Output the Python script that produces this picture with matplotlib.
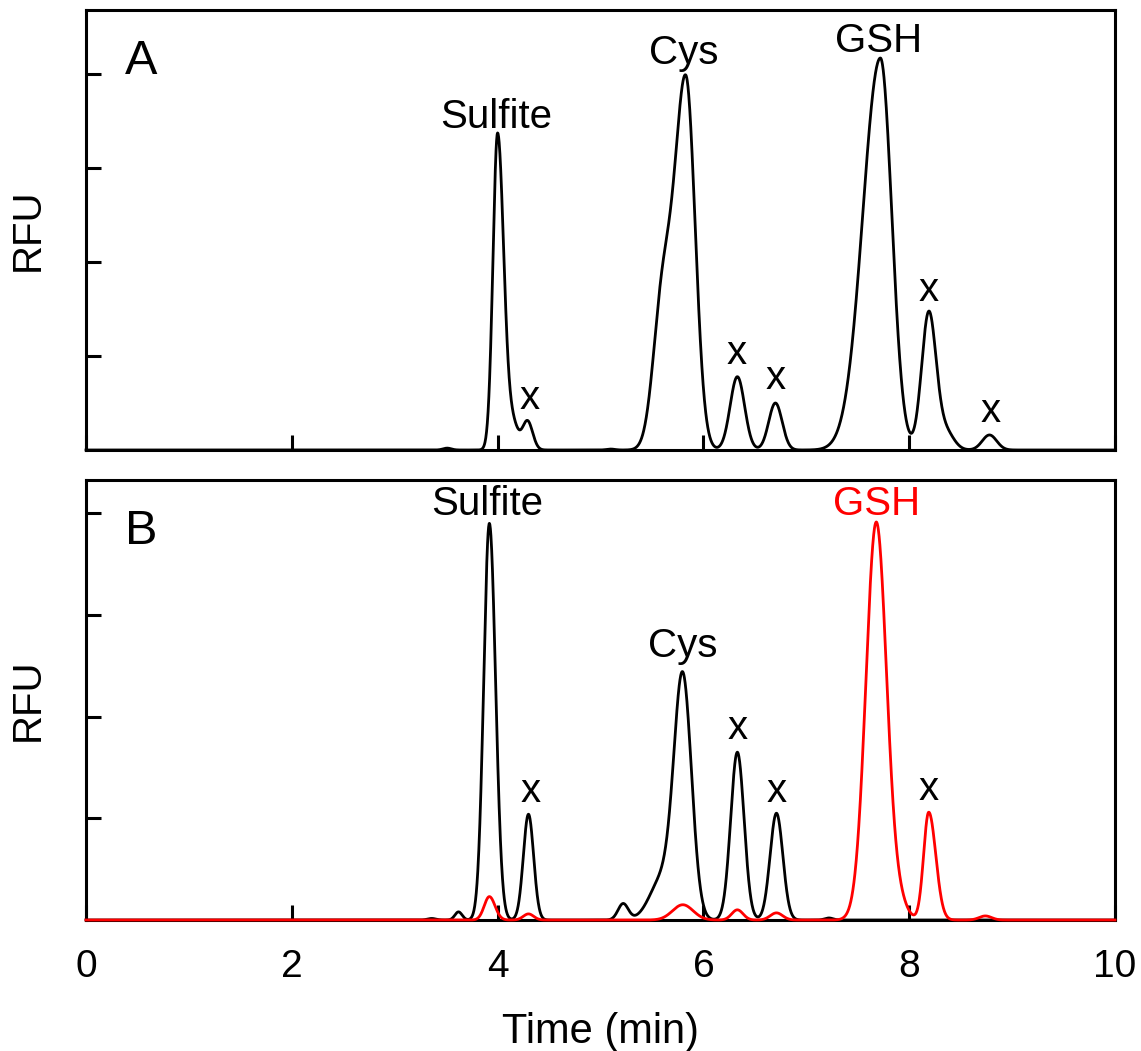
import numpy as np
import matplotlib
matplotlib.use("Agg")
import matplotlib.pyplot as plt

plt.rcParams['font.family'] = ['Liberation Sans', 'DejaVu Sans']

# -------------------------------
# PEAK TABLES
# centre (min), height (RFU units), sigma left, sigma right
# -------------------------------
a_center = [3.51, 4.00, 4.15, 4.29, 5.10, 5.60, 5.83, 6.33, 6.70, 7.72, 8.19, 8.35, 8.78]
a_height = [0.02, 3.37, 0.25, 0.31, 0.01, 1.50, 3.93, 0.78, 0.50, 4.17, 1.45, 0.20, 0.16]
a_sig_l = [0.04, 0.045, 0.05, 0.05, 0.04, 0.09, 0.11, 0.07, 0.065, 0.17, 0.07, 0.08, 0.07]
a_sig_r = [0.04, 0.06, 0.05, 0.05, 0.04, 0.09, 0.09, 0.07, 0.065, 0.11, 0.07, 0.08, 0.07]

b_black_center = [3.36, 3.62, 3.92, 4.30, 5.22, 5.60, 5.80, 6.33, 6.71, 7.22]
b_black_height = [0.015, 0.08, 3.90, 1.04, 0.16, 0.40, 2.34, 1.65, 1.05, 0.02]
b_black_sig_l = [0.04, 0.035, 0.055, 0.05, 0.05, 0.12, 0.085, 0.065, 0.062, 0.04]
b_black_sig_r = [0.04, 0.035, 0.06, 0.05, 0.05, 0.12, 0.085, 0.065, 0.062, 0.04]

b_red_center = [3.92, 4.30, 5.80, 6.33, 6.71, 7.68, 7.90, 8.19, 8.74]
b_red_height = [0.23, 0.06, 0.15, 0.10, 0.07, 3.91, 0.15, 1.06, 0.04]
b_red_sig_l = [0.05, 0.05, 0.10, 0.055, 0.06, 0.10, 0.08, 0.05, 0.06]
b_red_sig_r = [0.055, 0.05, 0.10, 0.055, 0.06, 0.10, 0.08, 0.068, 0.06]

# peak labels: text, time, y (baseline of text), colour
a_labels = [("Sulfite", 3.99, 3.43, "black"), ("x", 4.31, 0.44, "black"),
            ("Cys", 5.81, 4.11, "black"), ("x", 6.32, 0.91, "black"),
            ("x", 6.70, 0.65, "black"), ("GSH", 7.70, 4.23, "black"),
            ("x", 8.19, 1.59, "black"), ("x", 8.79, 0.30, "black")]
b_labels = [("Sulfite", 3.90, 3.98, "black"), ("x", 4.32, 1.16, "black"),
            ("Cys", 5.80, 2.59, "black"), ("x", 6.33, 1.78, "black"),
            ("x", 6.71, 1.16, "black"), ("GSH", 7.68, 3.98, "red"),
            ("x", 8.19, 1.18, "black")]

t = np.linspace(0, 10, 4001)


def trace(centers, heights, sig_l, sig_r):
    y = np.zeros_like(t)
    for c, h, sl, sr in zip(centers, heights, sig_l, sig_r):
        s = np.where(t < c, sl, sr)
        y += h * np.exp(-0.5 * ((t - c) / s) ** 2)
    return y


fig = plt.figure(figsize=(11.41, 10.51), dpi=100)
ax_a = fig.add_axes([86 / 1141, 1 - 450 / 1051, 1029 / 1141, 440 / 1051])
ax_b = fig.add_axes([86 / 1141, 1 - 920 / 1051, 1029 / 1141, 440 / 1051])

ax_a.plot(t, trace(a_center, a_height, a_sig_l, a_sig_r), color="black", lw=2.0,
          clip_on=False, zorder=3)
ax_b.plot(t, trace(b_black_center, b_black_height, b_black_sig_l, b_black_sig_r),
          color="black", lw=2.0, clip_on=False, zorder=3)
ax_b.plot(t, trace(b_red_center, b_red_height, b_red_sig_l, b_red_sig_r),
          color="red", lw=2.0, clip_on=False, zorder=4)

for ax, labels, ytop, letter in [(ax_a, a_labels, 440 / 94, "A"),
                                 (ax_b, b_labels, 440 / 101.7, "B")]:
    for txt, x, y, col in labels:
        ax.text(x, y, txt, ha="center", va="baseline", fontsize=29, color=col)
    ax.text(0.054, 0.855, letter, transform=ax.transAxes, ha="center",
            va="baseline", fontsize=35)
    ax.set_xlim(0, 10)
    ax.set_ylim(0, ytop)
    ax.set_xticks([0, 2, 4, 6, 8, 10])
    ax.set_yticks([1, 2, 3, 4])
    ax.tick_params(direction="in", length=10.8, width=2.2, top=False, right=False,
                   labelleft=False, labelsize=28, pad=21)
    for sp in ax.spines.values():
        sp.set_linewidth(2.2)
    ax.set_ylabel("RFU", fontsize=29)
    ax.yaxis.set_label_coords(-0.038, 0.5)

ax_a.tick_params(labelbottom=False)
ax_b.set_xlabel("Time (min)", fontsize=30, labelpad=19)

plt.savefig("out.png", dpi=100)
plt.close(fig)
